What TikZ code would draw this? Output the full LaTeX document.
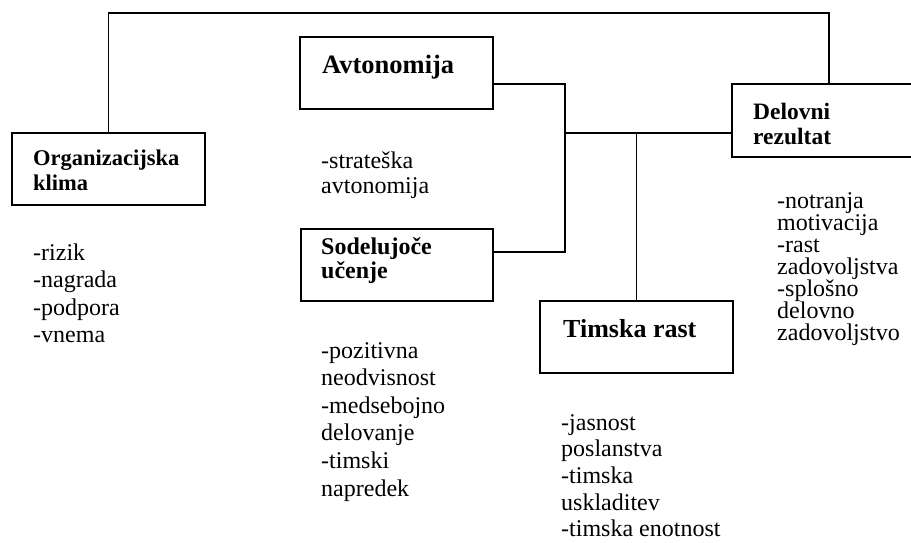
\documentclass[tikz,border=0pt]{standalone}
\usepackage{fontspec}
\setmainfont{Liberation Serif}
\usetikzlibrary{calc}
\tikzset{
  box/.style={draw, line width=1.8pt, minimum width=193pt, minimum height=72pt, inner sep=0pt},
  link/.style={draw, line width=1.1pt},
  title/.style={anchor=base west, inner sep=0pt, align=left},
  items/.style={anchor=base west, inner sep=0pt, align=left},
}
\newcommand{\fsz}[2]{\fontsize{#1}{#2}\selectfont}
\begin{document}
\begin{tikzpicture}[x=1pt,y=-1pt]
  \useasboundingbox (0,0) rectangle (911,542);
  \clip (0,0) rectangle (911,542);

  % boxes
  \node[box] (ok)  at (108.5,169) {};
  \node[box] (avt) at (396.5,73) {};
  \node[box, minimum width=192pt] (sod) at (397,265) {};
  \node[box] (tim) at (636.5,337) {};
  \node[box, minimum width=194pt, minimum height=73pt] (del) at (829,120.5) {};

  % headings (multi-line nodes sit on the baseline of their last line)
  \node[title, font=\bfseries\fsz{22.5}{25}] (okt) at (33,190) {Organizacijska\\klima};
  \node[title, font=\bfseries\fsz{26.5}{30}] (avtt) at (322,73) {Avtonomija};
  \node[title, font=\bfseries\fsz{24}{21}] (sodt) at (321,278) {Sodelujoče\\učenje};
  \node[title, font=\bfseries\fsz{26}{30}] (timt) at (563,337) {Timska rast};
  \node[title, font=\bfseries\fsz{23.5}{25}] (delt) at (753,144) {Delovni\\rezultat};

  % item lists
  \node[items, font=\fsz{24}{27.5}] (okl) at (33,342.5) {-rizik\\-nagrada\\-podpora\\-vnema};
  \node[items, font=\fsz{24}{25}] (avtl) at (321,193) {-strateška\\avtonomija};
  \node[items, font=\fsz{24}{27.6}] (sodl) at (321,496) {-pozitivna\\neodvisnost\\-medsebojno\\delovanje\\-timski\\napredek};
  \node[items, font=\fsz{24}{26.7}] (timl) at (561,536.8) {-jasnost\\poslanstva\\-timska\\uskladitev\\-timska enotnost};
  \node[items, font=\fsz{24}{22}] (dell) at (777,340) {-notranja\\motivacija\\-rast\\zadovoljstva\\-splošno\\delovno\\zadovoljstvo};

  % connectors
  \coordinate (j) at (565,133);
  \coordinate (top) at (500,13);
  \draw[link] ([yshift=-11pt]avt.east) -| (j);
  \draw[link] ([yshift=13pt]sod.east) -| (j);
  \draw[link] (j) -- ([yshift=-12.5pt]del.west);
  \draw[link] (tim.north) -- (tim.north |- j);
  \draw[link] (ok.north) |- (top) -| (del.north);
\end{tikzpicture}
\end{document}
